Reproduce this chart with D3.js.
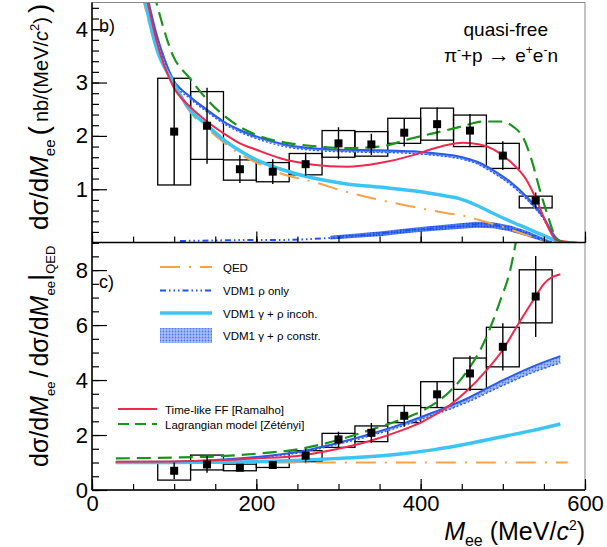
<!DOCTYPE html>
<html>
<head>
<meta charset="utf-8">
<script src="https://cdn.jsdelivr.net/npm/d3@7"></script>
<style>
  body { margin: 0; background: #fff; }
  svg { font-family: "Liberation Sans", Arial, sans-serif; }
</style>
</head>
<body>
<div id="chart"></div>
<script>
/* DATA */
const binCenters = [100, 140, 180, 220, 260, 300, 340, 380, 420, 460, 500, 540];
const binHalf = 20;

// b) cross section, nb/(MeV/c2)
const topVal   = [2.08, 2.19, 1.375, 1.33, 1.47, 1.86, 1.84, 2.06, 2.22, 2.10, 1.63, 0.79];
const topStat  = [1.00, 0.71, 0.26, 0.23, 0.22, 0.30, 0.20, 0.26, 0.31, 0.31, 0.27, 0.15];
const topSysLo = [1.08, 1.56, 1.17, 1.14, 1.27, 1.60, 1.62, 1.86, 1.92, 1.80, 1.39, 0.65];
const topSysHi = [3.08, 2.83, 1.55, 1.50, 1.67, 2.10, 2.08, 2.33, 2.52, 2.39, 1.86, 0.87];

// c) ratio to QED
const botVal   = [0.70, 0.93, 0.81, 0.91, 1.25, 1.84, 2.08, 2.70, 3.48, 4.24, 5.21, 7.04];
const botStat  = [0.30, 0.30, 0.12, 0.12, 0.25, 0.28, 0.36, 0.40, 0.48, 0.64, 0.86, 1.47];
const botSysLo = [0.36, 0.73, 0.70, 0.82, 1.03, 1.55, 1.76, 2.45, 3.00, 3.66, 4.48, 6.08];
const botSysHi = [0.98, 1.27, 0.94, 1.03, 1.43, 2.06, 2.33, 3.07, 3.94, 4.80, 5.92, 8.01];

// model curves, top panel [M_ee, value]
const qedTop = [[60,4.7],[79,3.62],[99,2.97],[119,2.46],[140,2.14],[160,1.88],[180,1.66],[200,1.50],
  [229,1.30],[269,1.14],[310,0.95],[350,0.80],[391,0.67],[432,0.55],[456,0.49],[472,0.42],
  [497,0.31],[529,0.14],[549,0.03],[556,0]];
const rhoTop = [[107,0.03],[150,0.04],[200,0.05],[229,0.05],[269,0.07],[310,0.11],[350,0.17],
  [391,0.24],[432,0.29],[448,0.31],[468,0.34],[488,0.33],[509,0.27],[529,0.17],[549,0.05],[565,0]];
const rhoTopHi = [[290,0.13],[350,0.21],[391,0.28],[432,0.34],[468,0.39],[488,0.38],[509,0.32],[529,0.22],[549,0.09],[560,0.02]];
const rhoTopLo = [[290,0.06],[350,0.12],[391,0.19],[432,0.24],[468,0.28],[488,0.27],[509,0.21],[529,0.12],[549,0.02],[560,0]];
const incohTop = [[62,4.7],[79,3.62],[99,3.0],[119,2.49],[140,2.2],[160,1.93],[180,1.72],[200,1.55],
  [229,1.38],[269,1.21],[310,1.10],[350,1.04],[391,0.97],[432,0.87],[448,0.82],[468,0.70],
  [488,0.55],[509,0.40],[529,0.27],[553,0.11],[570,0]];
const constrTop = [[66,4.7],[79,3.88],[99,3.05],[119,2.74],[140,2.49],[160,2.27],[180,2.11],[200,1.99],
  [241,1.82],[269,1.77],[310,1.74],[350,1.73],[391,1.71],[420,1.67],[448,1.61],[468,1.52],
  [488,1.36],[509,1.14],[529,0.86],[549,0.49],[561,0.17],[570,0.02],[580,0]];
const constrTopLo = [[66,4.66],[79,3.84],[99,3.01],[119,2.70],[140,2.45],[160,2.23],[180,2.07],[200,1.95],
  [241,1.78],[269,1.73],[310,1.70],[350,1.69],[391,1.67],[420,1.63],[448,1.57],[468,1.48],
  [488,1.31],[509,1.09],[529,0.81],[549,0.45],[561,0.14],[570,0.01],[580,0]];
const ffTop = [[65,4.7],[79,3.76],[99,2.92],[119,2.55],[140,2.27],[160,2.05],[180,1.86],[200,1.74],
  [229,1.58],[269,1.46],[310,1.42],[350,1.49],[391,1.64],[411,1.74],[432,1.83],[452,1.87],
  [472,1.84],[488,1.75],[509,1.52],[529,1.17],[541,0.80],[553,0.36],[565,0.05],[590,0]];
const lagTop = [[75,4.7],[99,3.49],[119,3.08],[140,2.68],[160,2.39],[180,2.17],[200,2.02],[241,1.86],
  [269,1.81],[310,1.77],[350,1.80],[391,1.96],[432,2.11],[448,2.17],[476,2.27],[497,2.27],
  [513,2.17],[525,1.96],[535,1.55],[545,0.99],[555,0.49],[565,0.08],[574,0]];

// model curves, bottom panel (ratio)
const qedBot = [[29,1],[200,1],[400,1],[579,1]];
const incohBot = [[29,1.0],[100,1.0],[150,1.01],[200,1.03],[253,1.08],[300,1.15],[336,1.21],
  [375,1.31],[415,1.46],[456,1.67],[496,1.92],[537,2.17],[570,2.40]];
const constrBotHi = [[29,1.0],[100,1.03],[150,1.09],[200,1.2],[250,1.38],[300,1.72],[340,2.05],
  [375,2.38],[415,2.82],[456,3.32],[497,3.95],[537,4.5],[570,4.87]];
const constrBotLo = [[29,1.0],[100,1.02],[150,1.07],[200,1.17],[250,1.34],[300,1.67],[340,1.98],
  [375,2.30],[415,2.72],[456,3.18],[497,3.76],[537,4.28],[570,4.62]];
const ffBot = [[29,1.03],[100,1.04],[150,1.08],[200,1.15],[250,1.24],[300,1.5],[340,1.8],[375,2.15],
  [403,2.5],[436,3.1],[456,3.6],[480,4.35],[500,5.1],[517,5.95],[537,6.9],[550,7.5],[570,7.85]];
const lagBot = [[29,1.15],[100,1.18],[150,1.22],[200,1.32],[250,1.48],[300,1.82],[340,2.2],[375,2.55],
  [403,2.9],[436,3.6],[456,4.3],[476,5.3],[497,6.9],[509,8.0],[517,9.2]];

/* LAYOUT */
const width = 607, height = 547;
const frameL = 92, frameR = 585, frameT = 2.5, frameMid = 242.6, frameB = 490;

const colors = { qed: "#f6a14b", rho: "#1f55ee", incoh: "#3cc4f4", constr: "#2a5ce8",
  ff: "#f0284e", lag: "#18941c" };
const dashes = { qed: "20,9,2,9", rho: "6,3,1.5,3,1.5,3,1.5,3", lag: "14,7", lo: "2,2" };

const x = d3.scaleLinear().domain([0, 600]).range([frameL, frameR]);
const yTop = d3.scaleLinear().domain([0, 4.5]).range([frameMid, frameT]);
const yBot = d3.scaleLinear().domain([0, 9]).range([frameB, frameMid]);

const svg = d3.select("#chart").append("svg")
  .attr("width", width).attr("height", height);

const defs = svg.append("defs");
defs.append("clipPath").attr("id", "clipTop").append("rect")
  .attr("x", frameL).attr("y", frameT).attr("width", frameR - frameL).attr("height", frameMid - frameT);
defs.append("clipPath").attr("id", "clipBot").append("rect")
  .attr("x", frameL).attr("y", frameMid).attr("width", frameR - frameL).attr("height", frameB - frameMid);

function makePattern(id, bg, dot) {
  const p = defs.append("pattern").attr("id", id).attr("patternUnits", "userSpaceOnUse")
    .attr("width", 3).attr("height", 3);
  p.append("rect").attr("width", 3).attr("height", 3).attr("fill", bg);
  p.append("circle").attr("cx", 1.5).attr("cy", 1.5).attr("r", 0.9).attr("fill", dot);
}
makePattern("dots", "#a9c1f8", "#4d78ec");
makePattern("dotsDark", "#4f7ff0", "#1a47e0");

function drawPanel(g, y, curves) {
  const line = d3.line().x(d => x(d[0])).y(d => y(d[1])).curve(d3.curveMonotoneX);
  curves.forEach(c => {
    if (c.band) {
      const hi = c.band[0], lo = c.band[1];
      const poly = hi.map(d => [x(d[0]), y(d[1])])
        .concat(lo.slice().reverse().map(d => [x(d[0]), y(d[1])]));
      g.append("path")
        .attr("d", d3.line().curve(d3.curveLinear)(poly) + "Z")
        .attr("fill", `url(#${c.fill || "dots"})`).attr("stroke", "none");
      return;
    }
    g.append("path").datum(c.data)
      .attr("d", line)
      .attr("fill", "none")
      .attr("stroke", c.color)
      .attr("stroke-width", c.w || 2)
      .attr("stroke-dasharray", c.dash || null);
  });
}

function drawBoxes(g, y, lo, hi) {
  g.selectAll("rect.sys").data(binCenters).join("rect")
    .attr("class", "sys")
    .attr("x", d => x(d - binHalf)).attr("width", d => x(d + binHalf) - x(d - binHalf))
    .attr("y", (d, i) => y(hi[i])).attr("height", (d, i) => y(lo[i]) - y(hi[i]))
    .attr("fill", "none").attr("stroke", "#000").attr("stroke-width", 1.3);
}

function drawPoints(g, y, val, stat) {
  g.selectAll("line.stat").data(binCenters).join("line")
    .attr("class", "stat")
    .attr("x1", d => x(d)).attr("x2", d => x(d))
    .attr("y1", (d, i) => y(val[i] + stat[i])).attr("y2", (d, i) => y(val[i] - stat[i]))
    .attr("stroke", "#000").attr("stroke-width", 1.4);
  g.selectAll("rect.pt").data(binCenters).join("rect")
    .attr("class", "pt")
    .attr("x", d => x(d) - 4).attr("y", (d, i) => y(val[i]) - 4)
    .attr("width", 8).attr("height", 8).attr("fill", "#000");
}

/* TOP PANEL */
const gTop = svg.append("g").attr("clip-path", "url(#clipTop)");
drawBoxes(gTop, yTop, topSysLo, topSysHi);
drawPanel(gTop, yTop, [
  { band: [rhoTopHi, rhoTopLo], fill: "dotsDark" },
  { data: rhoTop, color: colors.rho, w: 2, dash: dashes.rho },
  { data: qedTop, color: colors.qed, w: 2, dash: dashes.qed },
  { band: [constrTop, constrTopLo] },
  { data: constrTopLo, color: colors.constr, w: 1.4, dash: dashes.lo },
  { data: constrTop, color: colors.constr, w: 2 },
  { data: incohTop, color: colors.incoh, w: 3.5 },
  { data: ffTop, color: colors.ff, w: 2 },
  { data: lagTop, color: colors.lag, w: 2.2, dash: dashes.lag }
]);
drawPoints(gTop, yTop, topVal, topStat);

/* BOTTOM PANEL */
const gBot = svg.append("g").attr("clip-path", "url(#clipBot)");
drawBoxes(gBot, yBot, botSysLo, botSysHi);
drawPanel(gBot, yBot, [
  { data: qedBot, color: colors.qed, w: 2, dash: dashes.qed },
  { band: [constrBotHi, constrBotLo] },
  { data: constrBotLo, color: colors.constr, w: 1.4, dash: dashes.lo },
  { data: constrBotHi, color: colors.constr, w: 2 },
  { data: incohBot, color: colors.incoh, w: 3.5 },
  { data: ffBot, color: colors.ff, w: 2 },
  { data: lagBot, color: colors.lag, w: 2.2, dash: dashes.lag }
]);
drawPoints(gBot, yBot, botVal, botStat);

/* FRAMES */
svg.append("rect").attr("x", frameL).attr("y", frameT).attr("width", frameR - frameL).attr("height", frameB - frameT)
  .attr("fill", "none").attr("stroke", "#888").attr("stroke-width", 1);

/* AXES */
const tickFont = g => g.selectAll("text").attr("font-size", 22).attr("fill", "#000")
  .attr("font-family", "Liberation Sans, Arial, sans-serif");
const noDomain = g => g.select(".domain").remove();
const blackTicks = g => g.selectAll("line").attr("stroke", "#000").attr("stroke-width", 1.2);

// x axes (ticks inward)
[[frameMid, false], [frameB, true]].forEach(([yy, labels]) => {
  svg.append("g").attr("transform", `translate(0,${yy})`)
    .call(d3.axisBottom(x).tickValues(d3.range(0, 601, 50)).tickSize(-6).tickFormat(""))
    .call(noDomain).call(blackTicks);
  svg.append("g").attr("transform", `translate(0,${yy})`)
    .call(d3.axisBottom(x).tickValues([0, 200, 400, 600]).tickSize(-11).tickPadding(5.5)
      .tickFormat(labels ? d3.format("d") : ""))
    .call(noDomain).call(blackTicks).call(tickFont);
  svg.append("line").attr("x1", frameL).attr("x2", frameR).attr("y1", yy).attr("y2", yy)
    .attr("stroke", "#000").attr("stroke-width", 1.5);
});

// y axes
svg.append("g").attr("transform", `translate(${frameL},0)`)
  .call(d3.axisLeft(yTop).tickValues(d3.range(0, 4.51, 0.2)).tickSize(-7).tickFormat(""))
  .call(noDomain).call(blackTicks);
svg.append("g").attr("transform", `translate(${frameL},0)`)
  .call(d3.axisLeft(yTop).tickValues([1, 2, 3, 4]).tickSize(-15).tickPadding(4).tickFormat(d3.format("d")))
  .call(noDomain).call(blackTicks).call(tickFont);
svg.append("g").attr("transform", `translate(${frameL},0)`)
  .call(d3.axisLeft(yBot).tickValues(d3.range(0, 9.01, 0.5)).tickSize(-7).tickFormat(""))
  .call(noDomain).call(blackTicks);
svg.append("g").attr("transform", `translate(${frameL},0)`)
  .call(d3.axisLeft(yBot).tickValues([0, 2, 4, 6, 8]).tickSize(-15).tickPadding(4).tickFormat(d3.format("d")))
  .call(noDomain).call(blackTicks).call(tickFont);
svg.append("line").attr("x1", frameL).attr("x2", frameL).attr("y1", frameT).attr("y2", frameB)
  .attr("stroke", "#000").attr("stroke-width", 1.5);

/* LABELS */
function rich(t, parts) {
  parts.forEach(p => {
    const s = t.append("tspan").text(p.t);
    if (p.i) s.attr("font-style", "italic");
    if (p.fs) s.attr("font-size", p.fs);
    if (p.dy) s.attr("dy", p.dy);
    if (p.dx) s.attr("dx", p.dx);
  });
  return t;
}

// top y title
rich(svg.append("text").attr("transform", "translate(48,230) rotate(-90)")
  .attr("font-size", 26).attr("text-anchor", "start"), [
  { t: "dσ/d" }, { t: "M", i: 1 }, { t: "ee", fs: 15, dy: 7 },
  { t: "(", fs: 28, dy: -7, dx: 4 }, { t: "nb/(MeV/", fs: 20, dx: 4 }, { t: "c", i: 1, fs: 20 },
  { t: "2", fs: 13, dy: -9 }, { t: ")", fs: 20, dy: 9 }, { t: ")", fs: 28, dx: 4 }
]);

// bottom y title
rich(svg.append("text").attr("transform", "translate(48,467) rotate(-90)")
  .attr("font-size", 25).attr("text-anchor", "start"), [
  { t: "dσ/d" }, { t: "M", i: 1 }, { t: "ee", fs: 13, dy: 7 },
  { t: "/", fs: 25, dy: -7, dx: 4 }, { t: "dσ/d", dx: 4 }, { t: "M", i: 1 }, { t: "ee", fs: 13, dy: 7 },
  { t: "|", fs: 28, dy: -7 }, { t: "QED", fs: 13, dy: 7 }
]);

// x title
rich(svg.append("text").attr("x", frameR).attr("y", 539.5)
  .attr("font-size", 25).attr("text-anchor", "end"), [
  { t: "M", i: 1 }, { t: "ee", fs: 16, dy: 6 }, { t: " (MeV/", fs: 25, dy: -6 },
  { t: "c", i: 1 }, { t: "2", fs: 14, dy: -10 }, { t: ")", fs: 25, dy: 10 }
]);

svg.append("text").attr("x", 99).attr("y", 32).attr("font-size", 18).text("b)");
svg.append("text").attr("x", 99).attr("y", 288).attr("font-size", 18).text("c)");

svg.append("text").attr("x", 548).attr("y", 36).attr("font-size", 19)
  .attr("text-anchor", "end").text("quasi-free");
rich(svg.append("text").attr("x", 558).attr("y", 62).attr("font-size", 19)
  .attr("text-anchor", "end"), [
  { t: "π" }, { t: "-", fs: 12, dy: -8 }, { t: "+p ", fs: 19, dy: 8 }, { t: "→", fs: 22 },
  { t: " e", fs: 19 }, { t: "+", fs: 12, dy: -8 }, { t: "e", fs: 19, dy: 8 },
  { t: "-", fs: 12, dy: -8 }, { t: "n", fs: 19, dy: 8 }
]);

/* LEGENDS */
const legend1 = [
  { label: "QED", color: colors.qed, dash: dashes.qed, w: 2 },
  { label: "VDM1 ρ only", color: colors.rho, dash: dashes.rho, w: 2 },
  { label: "VDM1 γ + ρ incoh.", color: colors.incoh, w: 3.5 },
  { label: "VDM1 γ + ρ constr.", box: true }
];
const legY = [267, 290.5, 313, 335.5];
legend1.forEach((d, i) => {
  const yy = legY[i];
  if (d.box) {
    svg.append("rect").attr("x", 160).attr("y", yy - 7.5).attr("width", 52).attr("height", 15)
      .attr("fill", "url(#dots)");
  } else {
    svg.append("line").attr("x1", 160).attr("x2", 212).attr("y1", yy).attr("y2", yy)
      .attr("stroke", d.color).attr("stroke-width", d.w).attr("stroke-dasharray", d.dash || null);
  }
  svg.append("text").attr("x", 223).attr("y", yy + 4.5).attr("font-size", 11.5).text(d.label);
});

const legend2 = [
  { label: "Time-like FF [Ramalho]", color: colors.ff, w: 2 },
  { label: "Lagrangian model [Zétényi]", color: colors.lag, w: 2.2, dash: "11,6" }
];
legend2.forEach((d, i) => {
  const yy = 409 + i * 15;
  svg.append("line").attr("x1", 118).attr("x2", 157).attr("y1", yy).attr("y2", yy)
    .attr("stroke", d.color).attr("stroke-width", d.w).attr("stroke-dasharray", d.dash || null);
  svg.append("text").attr("x", 165).attr("y", yy + 4.5).attr("font-size", 11.5).text(d.label);
});
</script>
</body>
</html>
